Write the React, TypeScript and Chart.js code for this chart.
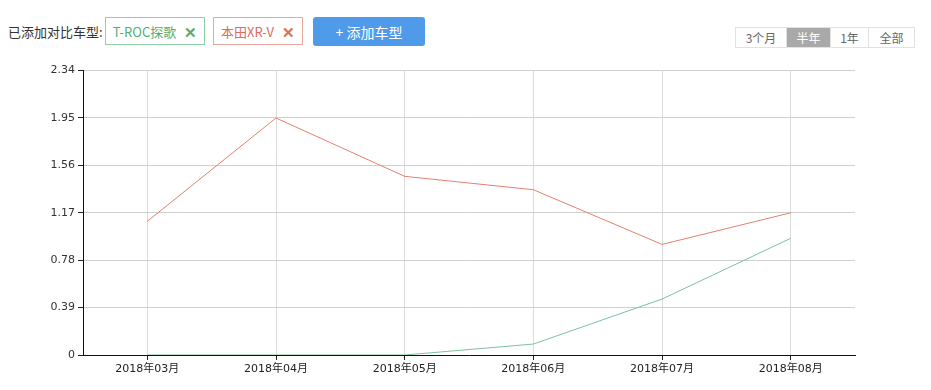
import React, { useEffect, useRef } from "react";
import { Chart, registerables } from "chart.js";

Chart.register(...registerables);

const months = ["2018年03月", "2018年04月", "2018年05月", "2018年06月", "2018年07月", "2018年08月"];
const tRocValues = [0, 0, 0, 0.09, 0.46, 0.96];
const xrvValues = [1.1, 1.95, 1.47, 1.36, 0.91, 1.17];
const yTicks = [0, 0.39, 0.78, 1.17, 1.56, 1.95, 2.34];
const seriesNames = ["T-ROC探歌", "本田XR-V"];
const rangeOptions = ["3个月", "半年", "1年", "全部"];
const selectedRange = "半年";

const FONT = "'DejaVu Sans', 'Noto Sans CJK SC', sans-serif";
const UI_FONT = "'Noto Sans CJK SC', 'Noto Sans', sans-serif";

export default function App() {
  const ref = useRef<HTMLCanvasElement | null>(null);

  useEffect(() => {
    document.body.style.margin = "0";
    const canvas = ref.current;
    if (!canvas) return;
    const chart = new Chart(canvas, {
      type: "line",
      data: {
        labels: months,
        datasets: [
          {
            label: seriesNames[0],
            data: tRocValues,
            borderColor: "#7cc29c",
            borderWidth: 1,
            pointRadius: 0,
            tension: 0,
            fill: false,
          },
          {
            label: seriesNames[1],
            data: xrvValues,
            borderColor: "#e2806f",
            borderWidth: 1,
            pointRadius: 0,
            tension: 0,
            fill: false,
          },
        ],
      },
      options: {
        animation: false,
        responsive: false,
        maintainAspectRatio: false,
        layout: { padding: { top: 9, right: 76, left: 0, bottom: 0 } },
        plugins: { legend: { display: false }, tooltip: { enabled: false } },
        scales: {
          x: {
            type: "category",
            offset: true,
            grid: {
              offset: false,
              color: "#dcdcdc",
              tickColor: "#222",
              tickLength: 5,
              drawOnChartArea: true,
            },
            border: { color: "#111", width: 1 },
            ticks: {
              color: "#222",
              font: { family: FONT, size: 11 },
              maxRotation: 0,
              autoSkip: false,
              padding: 3,
            },
            afterFit: (scale: any) => {
              scale.height = 35;
            },
          },
          y: {
            min: 0,
            max: 2.34,
            grid: { color: "#d0d0d0", tickColor: "#222", tickLength: 5 },
            border: { color: "#111", width: 1 },
            ticks: {
              color: "#333",
              font: { family: FONT, size: 11 },
              padding: 3,
              callback: (v: any) => String(v),
            },
            afterBuildTicks: (scale: any) => {
              scale.ticks = yTicks.map((v) => ({ value: v }));
            },
            afterFit: (scale: any) => {
              scale.width = 83;
            },
          },
        },
      },
    });
    return () => chart.destroy();
  }, []);

  const chip = (text: string, color: string, border: string, left: number, width: number) => (
    <div
      style={{
        position: "absolute",
        left,
        top: 17,
        width,
        height: 28,
        border: `1px solid ${border}`,
        boxSizing: "border-box",
        color,
        fontSize: 13,
        fontFamily: UI_FONT,
        display: "flex",
        alignItems: "center",
        justifyContent: "center",
        gap: 8,
        background: "#fff",
      }}
    >
      <span>{text}</span>
      <span style={{ fontSize: 15, fontWeight: 700 }}>✕</span>
    </div>
  );

  return (
    <div style={{ position: "fixed", left: 0, top: 0, width: 931, height: 390, background: "#fff", overflow: "hidden" }}>
      <div
        style={{
          position: "absolute",
          left: 8,
          top: 22,
          fontSize: 13,
          fontFamily: UI_FONT,
          color: "#333",
          lineHeight: "20px",
        }}
      >
        已添加对比车型:
      </div>
      {chip(seriesNames[0], "#4fae72", "#8fd0a4", 105, 100)}
      {chip(seriesNames[1], "#e06a5c", "#e9a89e", 213, 90)}
      <div
        style={{
          position: "absolute",
          left: 313,
          top: 17,
          width: 112,
          height: 29,
          background: "#4f9bea",
          borderRadius: 3,
          color: "#fff",
          fontSize: 14,
          fontFamily: UI_FONT,
          display: "flex",
          alignItems: "center",
          justifyContent: "center",
        }}
      >
        + 添加车型
      </div>
      <div
        style={{
          position: "absolute",
          left: 735,
          top: 27,
          height: 21,
          display: "flex",
          border: "1px solid #e2e2e2",
          boxSizing: "border-box",
          fontFamily: UI_FONT,
          fontSize: 12,
        }}
      >
        {rangeOptions.map((r, i) => (
          <div
            key={r}
            style={{
              width: [50, 44, 38, 46][i],
              textAlign: "center",
              lineHeight: "19px",
              color: r === selectedRange ? "#fff" : "#666",
              background: r === selectedRange ? "#a9a9a9" : "#fff",
              borderLeft: i > 0 ? "1px solid #e2e2e2" : "none",
              boxSizing: "border-box",
            }}
          >
            {r}
          </div>
        ))}
      </div>
      <canvas
        ref={ref}
        width={931}
        height={329}
        style={{ position: "absolute", left: 0, top: 61, width: 931, height: 329 }}
      />
    </div>
  );
}
